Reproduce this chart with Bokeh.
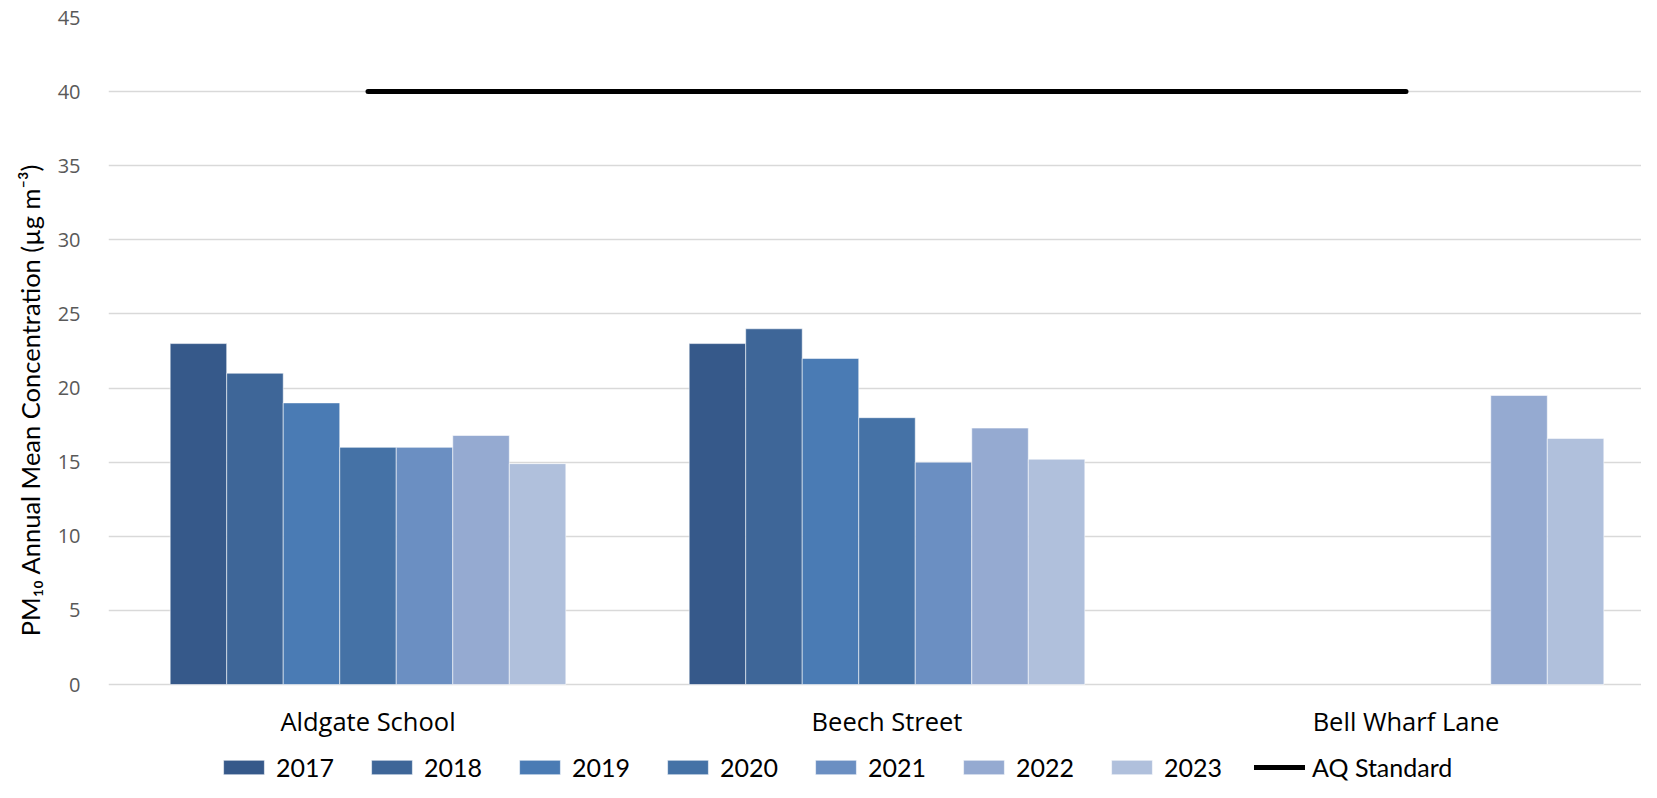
import math
from bokeh.plotting import figure
from bokeh.models import Range1d, FixedTicker, Legend, LegendItem, ColumnDataSource, Title
from bokeh.core.properties import value
from bokeh.transform import dodge
from bokeh.embed import file_html
from bokeh.resources import INLINE

# ---------------- data ----------------
sites = ["Aldgate School", "Beech Street", "Bell Wharf Lane"]
site_pos = [0.5, 1.5, 2.5]
years = ["2017", "2018", "2019", "2020", "2021", "2022", "2023"]
aldgate = [23.0, 21.0, 19.0, 16.0, 16.0, 16.8, 14.9]
beech = [23.0, 24.0, 22.0, 18.0, 15.0, 17.3, 15.2]
bell = [math.nan, math.nan, math.nan, math.nan, math.nan, 19.5, 16.6]
aq_standard = 40
y_ticks = [0, 5, 10, 15, 20, 25, 30, 35, 40, 45]
colors = ["#36598a", "#3e6698", "#4a7bb4", "#4572a6", "#6b8fc2", "#95aad1", "#b0c0dc"]
y_title = "PM\u2081\u2080 Annual Mean Concentration (\u00b5g m\u207b\u00b3)"

# ---------------- layout ----------------
W, H = 1641, 782
left, top = 108, 17
zero_px = 684            # screen row of value 0
px_per_unit = 519.0
x_start = 0.5 - (367.5 - left) / px_per_unit
x_end = x_start + (W - left) / px_per_unit
px_per_y = (zero_px - top) / 45.0
y_start = -(H - zero_px) / px_per_y

p = figure(width=W, height=H, output_backend="svg", toolbar_location=None,
           x_range=Range1d(x_start, x_end), y_range=Range1d(y_start, 45),
           x_axis_location=None,
           min_border_left=left, min_border_right=0, min_border_top=top,
           min_border_bottom=0)
p.outline_line_color = None
p.background_fill_color = "white"
p.border_fill_color = "white"

data = {"x": site_pos}
for i, y in enumerate(years):
    data[y] = [aldgate[i], beech[i], bell[i]]
source = ColumnDataSource(data)

bar_w = 0.1089
bars = []
for i, y in enumerate(years):
    r = p.vbar(x=dodge("x", (i - 3) * bar_w, range=p.x_range), top=y, width=bar_w,
               source=source, fill_color=colors[i], line_color="white", line_alpha=0.55,
               line_width=1)
    bars.append(r)

aq = p.line(x=site_pos, y=[aq_standard] * len(site_pos), line_color="black",
            line_width=5, line_cap="round")

# category labels under the zero line
p.text(x=site_pos, y=[0] * len(sites), text=sites, text_align="center",
       text_baseline="middle", y_offset=36, text_font=value("Open Sans"),
       text_font_size="25.5px", text_color="black")

# grid
p.xgrid.visible = False
p.ygrid.grid_line_color = "#d9d9d9"
p.ygrid.grid_line_width = 1.3
p.ygrid.ticker = FixedTicker(ticks=y_ticks)

# y axis
p.yaxis.ticker = FixedTicker(ticks=y_ticks)
p.yaxis.axis_line_color = None
p.yaxis.major_tick_line_color = None
p.yaxis.minor_tick_line_color = None
p.yaxis.major_label_text_font = "Open Sans"
p.yaxis.major_label_text_font_size = "20px"
p.yaxis.major_label_text_color = "#595959"
p.yaxis.major_label_standoff = 22

title = Title(text=y_title, align="center", offset=99, text_font="Lato",
              text_font_size="25.5px", text_font_style="normal", text_color="black",
              standoff=19)
p.add_layout(title, "left")

# legend
items = [LegendItem(label=years[i], renderers=[bars[i]]) for i in range(len(years))]
items.append(LegendItem(label="AQ Standard", renderers=[aq]))
legend = Legend(items=items, orientation="horizontal", nrows=1, location=(224 - 6 - left, 0),
                padding=0, margin=0, spacing=28, glyph_width=51, glyph_height=18,
                label_standoff=7, label_width=62, label_text_font="Lato",
                label_text_font_size="25px", label_text_color="black",
                border_line_color=None, background_fill_alpha=0)
p.add_layout(legend)

open("out.html", "w").write(file_html(p, INLINE))
